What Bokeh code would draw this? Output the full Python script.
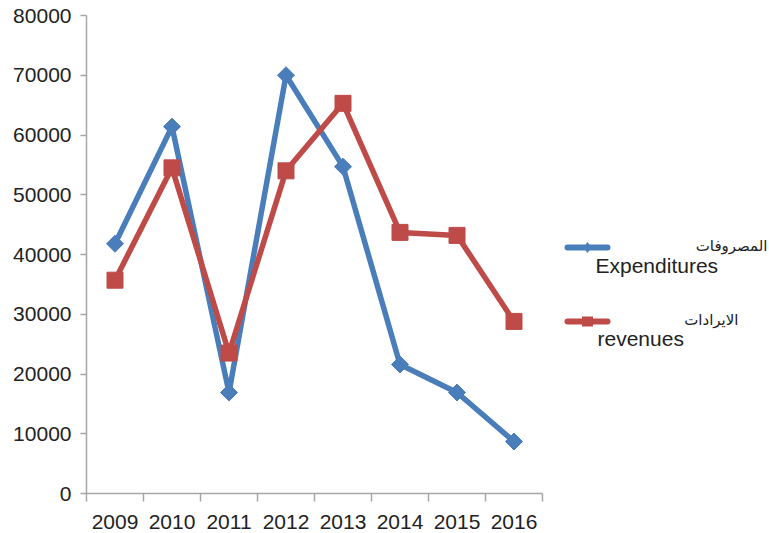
import math
from bokeh.plotting import figure
from bokeh.models import (Range1d, LinearAxis, FixedTicker, NumeralTickFormatter,
                          Label, Arrow, PolyAnnotation)
from bokeh.embed import file_html
from bokeh.resources import INLINE

# ---- data ----
years = ["2009", "2010", "2011", "2012", "2013", "2014", "2015", "2016"]
expenditures = [41800, 61400, 16900, 70000, 54700, 21600, 16900, 8700]
revenues = [35700, 54500, 23500, 54000, 65300, 43700, 43200, 28800]
y_ticks = [0, 10000, 20000, 30000, 40000, 50000, 60000, 70000, 80000]
legend_ar = ["المصروفات", "الايرادات"]
legend_en = ["Expenditures", "revenues"]

BLUE = "#4a7ebb"
RED = "#be4b48"
AXIS = "#a6a6a6"
TEXT = "#222222"
FONT = "Liberation Sans"

W, H = 769, 533
L, T, B = 86, 15, 40
AXIS_PX = 456          # pixel length of the category axis
n = len(years)
centers = [i + 0.5 for i in range(n)]
edges = [float(i) for i in range(n + 1)]

p = figure(width=W, height=H,
           x_range=Range1d(0, n * (W - L) / AXIS_PX),
           y_range=Range1d(y_ticks[0], y_ticks[-1]),
           x_axis_type=None, y_axis_type=None,
           output_backend="svg", toolbar_location=None,
           min_border_left=L, min_border_right=0, min_border_top=T, min_border_bottom=B,
           outline_line_color=None, background_fill_color="white", border_fill_color="white")
p.styles = {"position": "absolute", "left": "0px", "top": "0px"}

yaxis = LinearAxis(ticker=FixedTicker(ticks=y_ticks), formatter=NumeralTickFormatter(format="0"),
                   major_tick_in=0, major_tick_out=6, minor_tick_in=0, minor_tick_out=0,
                   axis_line_color=AXIS, axis_line_width=1.5,
                   major_tick_line_color=AXIS, major_tick_line_width=1.5,
                   major_label_standoff=9, major_label_text_font=FONT,
                   major_label_text_font_size="21px", major_label_text_color=TEXT)
p.add_layout(yaxis, "left")

xaxis = LinearAxis(ticker=FixedTicker(ticks=centers, minor_ticks=edges), bounds=(0, n),
                   major_label_overrides={c: yr for c, yr in zip(centers, years)},
                   major_tick_in=0, major_tick_out=0, minor_tick_in=0, minor_tick_out=8,
                   axis_line_color=AXIS, axis_line_width=1.5,
                   major_tick_line_color=None,
                   minor_tick_line_color=AXIS, minor_tick_line_width=1.5,
                   major_label_standoff=13, major_label_text_font=FONT,
                   major_label_text_font_size="21px", major_label_text_color=TEXT)
p.add_layout(xaxis, "below")

# ---- series ----
p.line(x=centers, y=expenditures, line_color=BLUE, line_width=5.5, line_join="round")
p.scatter(x=centers, y=expenditures, marker="square", angle=math.pi / 4, size=12,
          fill_color=BLUE, line_color=BLUE)
p.line(x=centers, y=revenues, line_color=RED, line_width=5.5, line_join="round")
p.scatter(x=centers, y=revenues, marker="square", size=16, fill_color=RED, line_color=RED)

# ---- legend (manual, frame-relative screen units) ----
def sx(X):
    return X - L

def sy(Y):
    return (H - B) - Y

for Y, col in [(247, BLUE), (321, RED)]:
    p.add_layout(Arrow(start=None, end=None, x_start=sx(567), y_start=sy(Y), x_end=sx(607), y_end=sy(Y),
                       start_units="screen", end_units="screen",
                       line_color=col, line_width=6, line_cap="round"))

p.add_layout(PolyAnnotation(xs=[sx(587), sx(591), sx(587), sx(583)],
                            ys=[sy(241.5), sy(247), sy(252.5), sy(247)],
                            xs_units="screen", ys_units="screen",
                            fill_color=BLUE, fill_alpha=1, line_color=None))
p.add_layout(PolyAnnotation(xs=[sx(581.5), sx(592.5), sx(592.5), sx(581.5)],
                            ys=[sy(316), sy(316), sy(326), sy(326)],
                            xs_units="screen", ys_units="screen",
                            fill_color=RED, fill_alpha=1, line_color=None))

for txt, X, Y in [(legend_ar[0], 767, 245), (legend_ar[1], 738, 319)]:
    p.add_layout(Label(x=sx(X), y=sy(Y), x_units="screen", y_units="screen", text=txt,
                       text_font="DejaVu Sans", text_font_size="15px", text_color=TEXT,
                       text_align="right", text_baseline="alphabetic"))
for txt, X, Y in [(legend_en[0], 595, 265), (legend_en[1], 597, 338)]:
    p.add_layout(Label(x=sx(X), y=sy(Y), x_units="screen", y_units="screen", text=txt,
                       text_font=FONT, text_font_size="21px", text_color=TEXT,
                       text_align="left", text_baseline="alphabetic"))

open("out.html", "w").write(file_html(p, INLINE))
